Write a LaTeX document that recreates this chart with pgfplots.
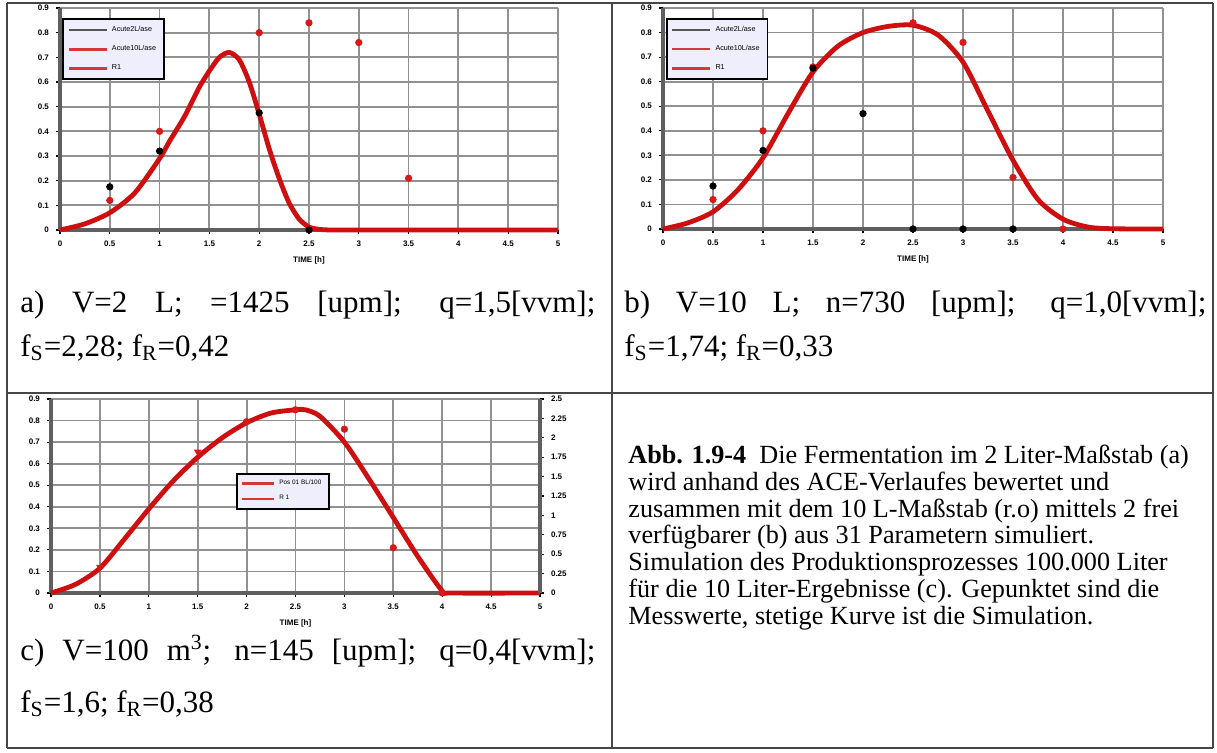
\documentclass[border=0pt]{standalone}
\usepackage{fontspec}
\setmainfont{Liberation Serif}
\newfontfamily\ticksf{Liberation Sans}
\usepackage{pgfplots}
\pgfplotsset{compat=1.18}

\definecolor{simred}{RGB}{205,15,15}
\definecolor{ptred}{RGB}{215,25,25}
\definecolor{legred}{RGB}{215,55,55}
\definecolor{leggray}{RGB}{85,85,85}
\definecolor{legfill}{RGB}{238,238,252}
\definecolor{gridgray}{RGB}{145,145,145}
\definecolor{axgray}{RGB}{95,95,95}
\definecolor{tabgray}{RGB}{70,70,70}

\pgfplotsset{
  panel/.style={
    scale only axis,
    xmin=0, xmax=5, ymin=0, ymax=0.9,
    clip=false,
    xtick={0,0.5,1,1.5,2,2.5,3,3.5,4,4.5,5},
    xticklabels={0,0.5,1,1.5,2,2.5,3,3.5,4,4.5,5},
    ytick={0,0.1,0.2,0.3,0.4,0.5,0.6,0.7,0.8,0.9},
    yticklabels={0,0.1,0.2,0.3,0.4,0.5,0.6,0.7,0.8,0.9},
    grid=major,
    grid style={line width=0.9pt, color=gridgray},
    axis lines=left,
    axis line style={-, line width=1.6pt, color=axgray},
    tick align=outside, major tick length=2pt,
    tick style={line width=0.6pt, color=black},
    ticklabel style={font=\ticksf\bfseries\fontsize{4}{4}\selectfont},
    /pgf/number format/assume math mode=true,
    xlabel={TIME [h]},
    xlabel style={font=\ticksf\bfseries\fontsize{4}{4}\selectfont, yshift=2pt},
    legend cell align=left,
    legend image code/.code={\draw[#1] (0pt,0pt) -- (19pt,0pt);},
    legend style={fill=legfill, draw=black, line width=0.9pt,
      font=\ticksf\fontsize{3.6}{4}\selectfont,
      inner xsep=2pt, inner ysep=1.5pt, row sep=1.5pt},
  },
  sim/.style={color=simred, line width=2.4pt, smooth, tension=0.45},
  redpt/.style={only marks, mark=*, mark size=1.6pt, color=ptred},
  blkpt/.style={only marks, mark=*, mark size=1.6pt, color=black},
}

\begin{document}
\begin{tikzpicture}[x=0.5pt, y=0.5pt]
\useasboundingbox (0,0) rectangle (1217,752);

% Tabellenrahmen
\draw[line width=1.4pt, color=tabgray] (7,749) -- (1213,749);
\draw[line width=1.0pt, color=tabgray] (7,359) -- (1213,359);
\draw[line width=1.0pt, color=tabgray] (7,4) -- (1213,4);
\draw[line width=1.0pt, color=tabgray] (7,749) -- (7,4);
\draw[line width=1.0pt, color=tabgray] (612,749) -- (612,4);
\draw[line width=1.0pt, color=tabgray] (1213,749) -- (1213,4);

% (a) 2 L
\begin{axis}[panel, at={(30pt,261pt)}, anchor=south west, width=249pt, height=111pt,
  legend style={at={(rel axis cs:0.005,0.955)}, anchor=north west}]
  \addlegendimage{line width=1.3pt, color=leggray}
  \addlegendentry{Acute2L/ase}
  \addlegendimage{line width=1.3pt, color=legred}
  \addlegendentry{Acute10L/ase}
  \addlegendimage{line width=1.3pt, color=legred}
  \addlegendentry{R1}
  \addplot[sim, forget plot] coordinates {
    (0,0) (0.25,0.025) (0.5,0.07) (0.75,0.15) (1.0,0.29) (1.1,0.36)
    (1.25,0.46) (1.4,0.58) (1.5,0.645) (1.6,0.70) (1.7,0.72) (1.8,0.69)
    (1.9,0.60) (2.0,0.47) (2.1,0.33) (2.2,0.21) (2.3,0.11) (2.4,0.045)
    (2.5,0.012) (2.6,0.003) (2.75,0) (3.5,0) (5,0)
  };
  \addplot[redpt, forget plot] coordinates {
    (0.5,0.12) (1,0.40) (2,0.80) (2.5,0.84) (3,0.76) (3.5,0.21)
  };
  \addplot[blkpt, forget plot] coordinates {
    (0.5,0.175) (1,0.32) (2,0.475) (2.5,0)
  };
\end{axis}

% (b) 10 L
\begin{axis}[panel, at={(331.5pt,261.5pt)}, anchor=south west, width=250pt, height=110.5pt,
  legend style={at={(rel axis cs:0.006,0.955)}, anchor=north west}]
  \addlegendimage{line width=1.3pt, color=leggray}
  \addlegendentry{Acute2L/ase}
  \addlegendimage{line width=1.3pt, color=legred}
  \addlegendentry{Acute10L/ase}
  \addlegendimage{line width=1.3pt, color=legred}
  \addlegendentry{R1}
  \addplot[sim, forget plot] coordinates {
    (0,0) (0.25,0.025) (0.5,0.07) (0.75,0.16) (1.0,0.29) (1.25,0.47)
    (1.5,0.64) (1.75,0.745) (2.0,0.80) (2.25,0.825) (2.5,0.83) (2.75,0.79)
    (3.0,0.68) (3.25,0.48) (3.5,0.28) (3.75,0.12) (4.0,0.04) (4.25,0.008)
    (4.5,0.001) (5,0)
  };
  \addplot[redpt, forget plot] coordinates {
    (0.5,0.12) (1,0.40) (1.5,0.66) (2.5,0.84) (3,0.76) (3.5,0.21) (4,0)
  };
  \addplot[blkpt, forget plot] coordinates {
    (0.5,0.175) (1,0.32) (1.5,0.655) (2,0.47) (2.5,0) (3,0) (3.5,0)
  };
\end{axis}

% (c) 100 m3
\begin{axis}[panel, at={(25.5pt,79.5pt)}, anchor=south west, width=244.5pt, height=97pt,
  legend image code/.code={\draw[#1] (0pt,0pt) -- (16pt,0pt);},
  legend style={at={(rel axis cs:0.378,0.62)}, anchor=north west,
    font=\ticksf\fontsize{3.2}{3.4}\selectfont, row sep=0pt, inner ysep=1pt}]
  \addlegendimage{line width=1.3pt, color=legred}
  \addlegendentry{Pos 01 BL/100}
  \addlegendimage{line width=1.3pt, color=legred}
  \addlegendentry{R 1}
  \addplot[sim, forget plot] coordinates {
    (0,0) (0.25,0.04) (0.5,0.115) (0.75,0.25) (1.0,0.39) (1.25,0.52)
    (1.5,0.63) (1.75,0.72) (2.0,0.79) (2.25,0.835) (2.5,0.85) (2.6,0.85)
    (2.75,0.82) (3.0,0.70) (3.25,0.53) (3.5,0.35) (3.75,0.17) (4.0,0.01)
    (4.1,0) (5,0)
  };
  \addplot[only marks, mark=triangle*, mark size=1.8pt, color=ptred,
    mark options={rotate=180}, forget plot] coordinates {
    (0.5,0.12) (1.5,0.655)
  };
  \addplot[redpt, forget plot] coordinates {
    (2,0.795) (2.5,0.85) (3,0.76) (3.5,0.21) (4,0)
  };
\end{axis}
\begin{axis}[scale only axis, at={(25.5pt,79.5pt)}, anchor=south west, width=244.5pt, height=97pt,
  xmin=0, xmax=5, ymin=0, ymax=2.5,
  axis x line=none, axis y line*=right,
  axis line style={-, line width=1.6pt, color=axgray},
  ytick={0,0.25,0.5,0.75,1,1.25,1.5,1.75,2,2.25,2.5},
  yticklabels={0,0.25,0.5,0.75,1,1.25,1.5,1.75,2,2.25,2.5},
  tick align=outside, major tick length=2pt,
  tick style={line width=0.6pt, color=black},
  ticklabel style={font=\ticksf\bfseries\fontsize{4}{4}\selectfont},
  /pgf/number format/assume math mode=true]
  \addplot[draw=none, forget plot] coordinates {(0,0) (5,2.5)};
\end{axis}

% Beschriftungen
\node[anchor=base west, inner sep=0, font=\fontsize{15.5}{18}\selectfont] at (20,440)
  {\makebox[287.5pt][s]{a) V=2 L; =1425 [upm]; q=1,5[vvm];}};
\node[anchor=base west, inner sep=0, font=\fontsize{15.5}{18}\selectfont] at (20,396)
  {f\textsubscript{S}=2,28; f\textsubscript{R}=0,42};

\node[anchor=base west, inner sep=0, font=\fontsize{15.5}{18}\selectfont] at (624,440)
  {\makebox[291pt][s]{b) V=10 L; n=730 [upm]; q=1,0[vvm];}};
\node[anchor=base west, inner sep=0, font=\fontsize{15.5}{18}\selectfont] at (624,396)
  {f\textsubscript{S}=1,74; f\textsubscript{R}=0,33};

\node[anchor=base west, inner sep=0, font=\fontsize{15.5}{18}\selectfont] at (20,92)
  {\makebox[287.5pt][s]{c) V=100 m\textsuperscript{3}; n=145 [upm]; q=0,4[vvm];}};
\node[anchor=base west, inner sep=0, font=\fontsize{15.5}{18}\selectfont] at (20,40)
  {f\textsubscript{S}=1,6; f\textsubscript{R}=0,38};

\node[anchor=north west, inner sep=0, align=left, font=\fontsize{13.1}{13.35}\selectfont]
  at (628,307) {\textbf{Abb. 1.9-4}\ \ Die Fermentation im 2 Liter-Maßstab (a)\\
  wird anhand des ACE-Verlaufes bewertet und\\
  zusammen mit dem 10 L-Maßstab (r.o) mittels 2 frei\\
  verfügbarer (b) aus 31 Parametern simuliert.\\
  Simulation des Produktionsprozesses 100.000 Liter\\
  für die 10 Liter-Ergebnisse (c). Gepunktet sind die\\
  Messwerte, stetige Kurve ist die Simulation.};
\end{tikzpicture}
\end{document}
